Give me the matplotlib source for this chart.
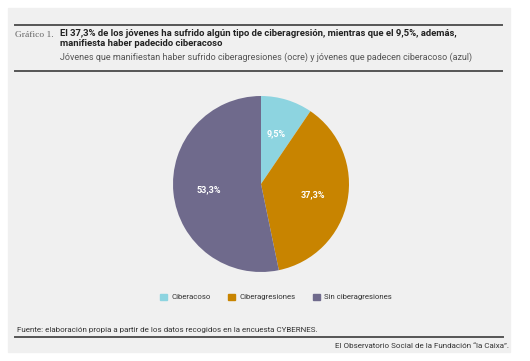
import matplotlib

matplotlib.use("Agg")

import matplotlib.pyplot as plt
from matplotlib.lines import Line2D
from matplotlib.patches import Rectangle

plt.rcParams["font.family"] = ["Roboto", "DejaVu Sans"]

categories = ["Ciberacoso", "Ciberagresiones", "Sin ciberagresiones"]
values = [9.5, 37.3, 53.3]
colors = ["#8dd4e0", "#c88400", "#6f6a8c"]

title = ("El 37,3% de los jóvenes ha sufrido algún tipo de ciberagresión, "
         "mientras que el 9,5%, además,\nmanifiesta haber padecido ciberacoso")
subtitle = ("Jóvenes que manifiestan haber sufrido ciberagresiones (ocre) "
            "y jóvenes que padecen ciberacoso (azul)")
source = "Fuente: elaboración propia a partir de los datos recogidos en la encuesta CYBERNES."
credit = "El Observatorio Social de la Fundación “la Caixa”."

W, H = 530, 361
fig = plt.figure(figsize=(W / 100, H / 100), dpi=100, facecolor="white")


def fx(x):
    return x / W


def fy(y):
    return 1 - y / H


# background panel
fig.patches.append(Rectangle((fx(8), fy(352)), fx(502), 344 / H,
                             transform=fig.transFigure, color="#f0f0f0", zorder=-5))

rule = dict(color="#555555", lw=1.4, transform=fig.transFigure)
fig.add_artist(Line2D([fx(15), fx(502)], [fy(25), fy(25)], **rule))
fig.add_artist(Line2D([fx(15), fx(502)], [fy(71), fy(71)], **rule))
fig.add_artist(Line2D([fx(15), fx(503)], [fy(337), fy(337)], **rule))

fig.text(fx(15), fy(35), "Gráfico 1.", family="Liberation Serif", fontsize=6.8,
         color="#666666", va="center")
fig.text(fx(60), fy(29), title, fontsize=6.8, fontweight="bold",
         color="#222222", va="top", linespacing=1.2)
fig.text(fx(60), fy(57), subtitle, fontsize=6.5, color="#555555", va="center")

# pie
cx, cy, r = 261, 184, 88
ax = fig.add_axes([fx(cx - r), fy(cy + r), 2 * r / W, 2 * r / H])
ax.set_facecolor("none")
labels = [f"{v:.1f}%".replace(".", ",") for v in values]
wedges, texts = ax.pie(values, colors=colors, startangle=90, counterclock=False,
                       labels=labels, labeldistance=0.6)
for t in texts:
    t.set_color("white")
    t.set_fontweight("bold")
    t.set_fontsize(6.5)
    t.set_ha("center")
    t.set_va("center")
ax.set_xlim(-1, 1)
ax.set_ylim(-1, 1)
ax.axis("off")

handles = [Rectangle((0, 0), 1, 1, color=c) for c in colors]
fig.legend(handles, categories, loc="center", bbox_to_anchor=(fx(276), fy(297)),
           ncol=3, frameon=False, fontsize=5.6, handlelength=0.9, handleheight=0.9,
           handletextpad=0.6, columnspacing=2.2, labelcolor="#333333")

fig.text(fx(17), fy(330), source, fontsize=5.8, color="#333333", va="center")
fig.text(fx(509), fy(346), credit, fontsize=5.8, color="#333333", va="center", ha="right")

fig.savefig("out.png", dpi=100, facecolor="white")
